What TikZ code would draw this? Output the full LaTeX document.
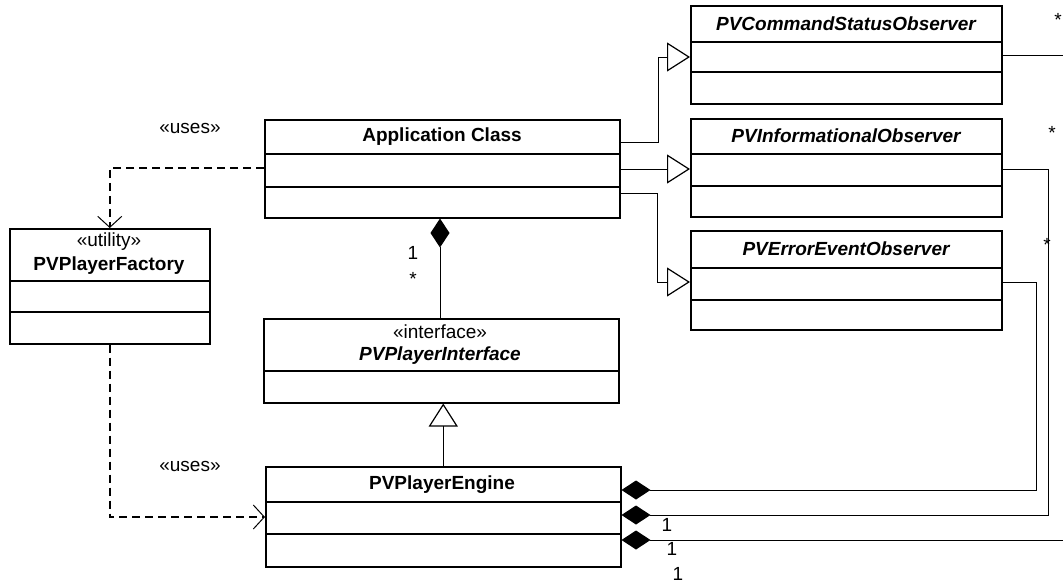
\documentclass[tikz,border=0pt]{standalone}
\usepackage{fontspec}
\setmainfont{Liberation Sans}
\usepackage{tikz}
\usetikzlibrary{arrows.meta,calc}

\newcommand{\umlfont}{\fontsize{19}{23}\selectfont}

\tikzset{
  classbox/.style={draw, line width=1.5pt, fill=white, anchor=north west, inner sep=0pt},
  divider/.style={line width=1.5pt},
  classname/.style={font=\umlfont\bfseries},
  abstractname/.style={font=\umlfont\bfseries\itshape},
  conn/.style={line width=1pt},
  generalization/.style={conn, -{Triangle[open, length=23pt, width=29pt, line width=1.2pt]}},
  composition/.style={conn, -{Diamond[length=29pt, width=19pt, fill=black]}},
  uses/.style={line width=1.5pt, dash pattern=on 8pt off 5pt, -{Straight Barb[length=11pt, width=24pt, line width=1pt]}}
}

\begin{document}
\begin{tikzpicture}[x=1pt, y=-1pt, font=\umlfont]
\useasboundingbox (0,0) rectangle (1063,584);

% class boxes
\node[classbox, minimum width=355pt, minimum height=98pt] (app) at (264,119) {};
\node[classbox, minimum width=311pt, minimum height=98pt] (cso) at (690,5) {};
\node[classbox, minimum width=311pt, minimum height=98pt] (info) at (690,118) {};
\node[classbox, minimum width=311pt, minimum height=99pt] (err) at (690,230) {};
\node[classbox, minimum width=200pt, minimum height=115pt] (fact) at (9,228) {};
\node[classbox, minimum width=355pt, minimum height=84pt] (iface) at (263,318) {};
\node[classbox, minimum width=355pt, minimum height=100pt] (engine) at (265,466) {};

% names
\node[classname] (appname) at (442,137) {Application Class};
\node[abstractname] (csoname) at (846,24) {PVCommandStatusObserver};
\node[abstractname] (infoname) at (846,136) {PVInformationalObserver};
\node[abstractname] (errname) at (846,249) {PVErrorEventObserver};
\node (factstereo) at (109,242) {«utility»};
\node[classname] (factname) at (109,266) {PVPlayerFactory};
\node (ifacestereo) at (440,332) {«interface»};
\node[abstractname] (ifacename) at (440,356) {PVPlayerInterface};
\node[classname] (enginename) at (442,485) {PVPlayerEngine};

% compartments
\draw[divider] (app.west |- 0,154) -- (app.east |- 0,154);
\draw[divider] (app.west |- 0,187) -- (app.east |- 0,187);
\draw[divider] (cso.west |- 0,42) -- (cso.east |- 0,42);
\draw[divider] (cso.west |- 0,72) -- (cso.east |- 0,72);
\draw[divider] (info.west |- 0,154) -- (info.east |- 0,154);
\draw[divider] (info.west |- 0,186) -- (info.east |- 0,186);
\draw[divider] (err.west |- 0,268) -- (err.east |- 0,268);
\draw[divider] (err.west |- 0,300) -- (err.east |- 0,300);
\draw[divider] (fact.west |- 0,281) -- (fact.east |- 0,281);
\draw[divider] (fact.west |- 0,312) -- (fact.east |- 0,312);
\draw[divider] (iface.west |- 0,371) -- (iface.east |- 0,371);
\draw[divider] (engine.west |- 0,502) -- (engine.east |- 0,502);
\draw[divider] (engine.west |- 0,534) -- (engine.east |- 0,534);

% realizations of the observers
\draw[generalization] (app.east |- 0,142) -- ++(38,0) |- (cso.west |- 0,57);
\draw[generalization] (app.east |- 0,169) -- (info.west |- 0,169);
\draw[generalization] (app.east |- 0,193) -- ++(37,0) |- (err.west |- 0,282);

% dependencies
\draw[uses] (app.west |- 0,168) -| (fact.north);
\draw[uses] (fact.south) |- (engine.west |- 0,517);
\node (uses1) at (190,128) {«uses»};
\node (uses2) at (190,466) {«uses»};

% interface
\draw[composition] (iface.north -| 440,0) -- (app.south -| 440,0);
\node (mult1) at (413,253) {1};
\node (mult2) at (413,279) {*};
\draw[generalization] (engine.north) -- (iface.south -| engine.north);

% observers held by the engine
\draw[composition] (err.east |- 0,282) -- ++(34,0) |- (engine.east |- 0,490);
\draw[composition] (info.east |- 0,169) -- ++(46,0) |- (engine.east |- 0,515);
\draw[composition] (cso.east |- 0,55) -- ++(66,0) |- (engine.east |- 0,540);
\node (star1) at (1058,20) {*};
\node (star2) at (1052,133) {*};
\node (star3) at (1047,245) {*};
\node (one1) at (667,525) {1};
\node (one2) at (672,549) {1};
\node (one3) at (678,574) {1};
\end{tikzpicture}
\end{document}
